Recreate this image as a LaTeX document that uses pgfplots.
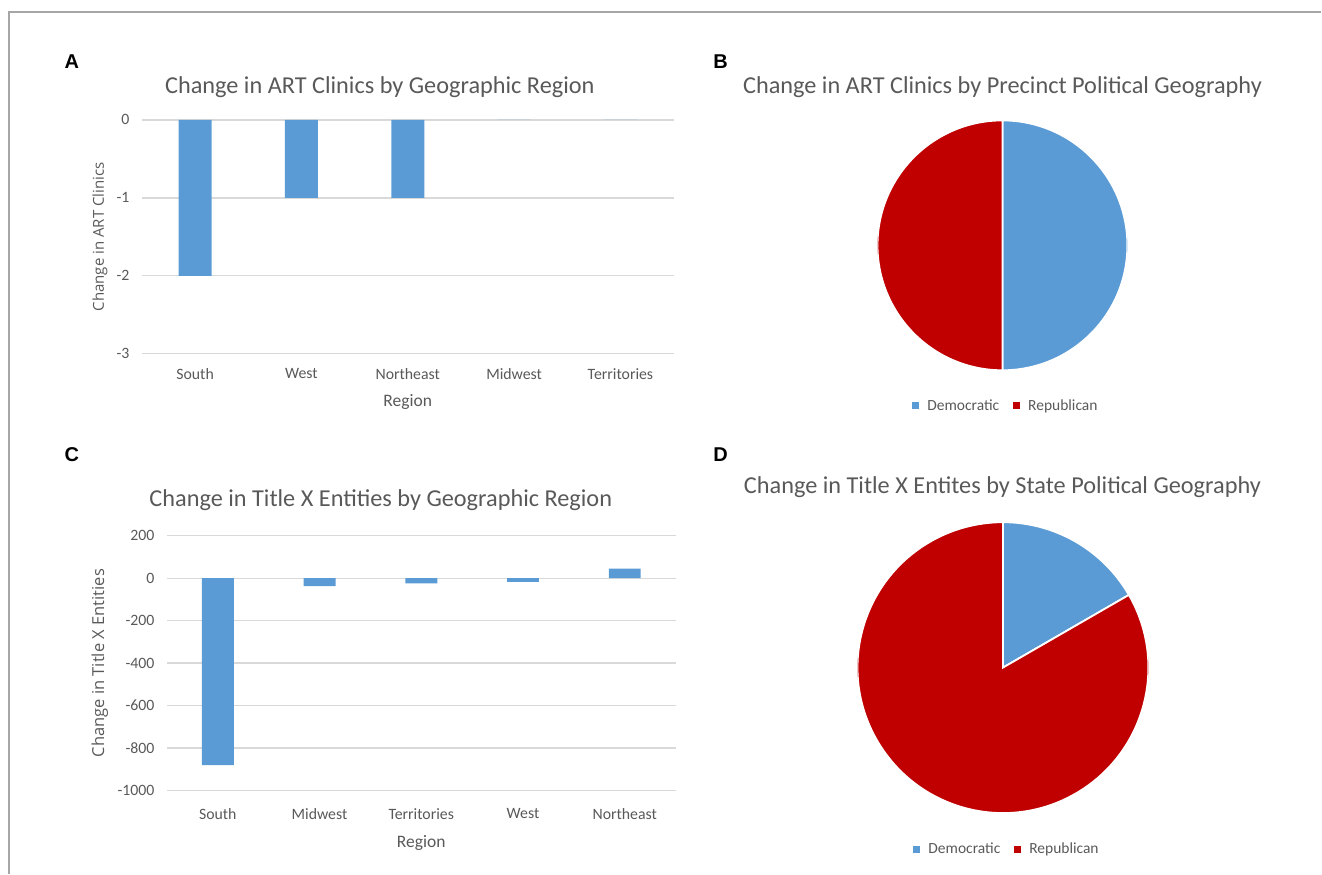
\documentclass[border=0pt]{standalone}
\usepackage{pgfplots}
\pgfplotsset{compat=1.18}
\usepackage{fontspec}
\setmainfont{Carlito}
\newfontfamily\ylabfont{Open Sans}
\newfontfamily\letterfont{Liberation Sans}
\definecolor{barblue}{HTML}{5B9BD5}
\definecolor{demblue}{HTML}{5B9BD5}
\definecolor{repred}{HTML}{C00000}
\definecolor{txtgray}{HTML}{595959}
\definecolor{gridgray}{HTML}{D9D9D9}
\definecolor{framegray}{HTML}{A6A6A6}
\pgfplotsset{
  barax/.style={
    scale only axis, ybar,
    axis line style={draw=none}, major tick length=0,
    ymajorgrids, grid style={draw=gridgray, line width=1.3bp},
    xtick={0,...,4}, xmin=-0.5, xmax=4.5,
    /pgf/number format/assume math mode=true,
    /pgf/number format/set thousands separator={},
    tick label style={font=\fontsize{15.8bp}{18bp}\selectfont, text=txtgray},
    yticklabel style={xshift=-9bp},
    xlabel style={font=\fontsize{17.5bp}{20bp}\selectfont, text=txtgray, anchor=center},
    ylabel style={text=txtgray, anchor=center},
  },
  pieax/.style={
    hide axis, scale only axis, xmin=-1, xmax=1, ymin=-1, ymax=1, anchor=center,
    legend columns=2,
    legend image code/.code={\path[draw=none,fill=none] (0bp,0bp) -- (13bp,0bp);\fill[##1, draw=none] (0bp,-3.5bp) rectangle (7bp,3.5bp);},
    legend style={draw=none, fill=none, anchor=center,
      font=\fontsize{15.5bp}{18bp}\selectfont, text=txtgray,
      /tikz/every even column/.append style={column sep=12bp}},
  },
}
\begin{document}%
\begin{tikzpicture}
% pie data (share of change)
\def\BDem{1}\def\BRep{1}
\def\DDem{1}\def\DRep{5}
\pgfmathsetmacro{\angB}{360*\BDem/(\BDem+\BRep)}
\pgfmathsetmacro{\angD}{360*\DDem/(\DDem+\DRep)}
\path (0,0) rectangle (1322bp,874bp);
\draw[framegray, line width=1.5bp] (9bp,0) -- (9bp,862bp) -- (1322bp,862bp);
% panel letters
\node[font=\letterfont\bfseries\fontsize{20bp}{22bp}\selectfont] at (72bp,812bp) {A};
\node[font=\letterfont\bfseries\fontsize{20bp}{22bp}\selectfont] at (721bp,812bp) {B};
\node[font=\letterfont\bfseries\fontsize{20bp}{22bp}\selectfont] at (72bp,419bp) {C};
\node[font=\letterfont\bfseries\fontsize{20bp}{22bp}\selectfont] at (721bp,419bp) {D};
% titles
\node[font=\fontsize{24.3bp}{28bp}\selectfont, text=txtgray] at (380bp,787bp) {Change in ART Clinics by Geographic Region};
\node[font=\fontsize{24.3bp}{28bp}\selectfont, text=txtgray] at (1003bp,787bp) {Change in ART Clinics by Precinct Political Geography};
\node[font=\fontsize{24.3bp}{28bp}\selectfont, text=txtgray] at (381bp,374bp) {Change in Title X Entities by Geographic Region};
\node[font=\fontsize{24.3bp}{28bp}\selectfont, text=txtgray] at (1003bp,387bp) {Change in Title X Entites by State Political Geography};

% Panel A
\begin{axis}[barax, at={(142bp,520bp)}, anchor=south west,
  width=532bp, height=234bp, bar width=33bp,
  ymin=-3, ymax=0, ytick={-3,-2,-1,0},
  xticklabels={South,West,Northeast,Midwest,Territories},
  xticklabel style={yshift=-11bp},
  xlabel={Region}, xlabel style={at={(axis description cs:0.5,-0.205)}},
  ylabel={Change in ART Clinics},
  ylabel style={font=\ylabfont\fontsize{15bp}{18bp}\selectfont, at={(axis description cs:-0.079,0.5)}},
]
\addplot[fill=barblue, draw=none] coordinates {(0,-2) (1,-1) (2,-1) (3,0) (4,0)};
\end{axis}

% Panel C
\begin{axis}[barax, at={(167bp,83bp)}, anchor=south west,
  width=509bp, height=255bp, bar width=32bp,
  ymin=-1000, ymax=200, ytick={-1000,-800,...,200},
  xticklabels={South,Midwest,Territories,West,Northeast},
  xticklabel style={yshift=-14.5bp},
  xlabel={Region}, xlabel style={at={(axis description cs:0.5,-0.205)}},
  ylabel={Change in Title X Entities},
  ylabel style={font=\ylabfont\fontsize{16.5bp}{19bp}\selectfont, at={(axis description cs:-0.1316,0.5)}},
]
\addplot[fill=barblue, draw=none] coordinates {(0,-880) (1,-38) (2,-24) (3,-17) (4,45)};
\end{axis}

% Panel B
\begin{axis}[pieax, at={(1003bp,628.5bp)}, width=250bp, height=250bp,
  legend style={at={(0.514,-0.142)}}]
\addlegendimage{fill=demblue}
\addlegendentry{Democratic}
\addlegendimage{fill=repred}
\addlegendentry{Republican}
\filldraw[fill=demblue, draw=white, line width=1.8bp] (axis cs:0,0) -- ++(90:125bp) arc[start angle=90, delta angle=-\angB, radius=125bp] -- cycle;
\filldraw[fill=repred, draw=white, line width=1.8bp] (axis cs:0,0) -- ++({90-\angB}:125bp) arc[start angle={90-\angB}, end angle=-270, radius=125bp] -- cycle;
\end{axis}

% Panel D
\begin{axis}[pieax, at={(1003.5bp,206bp)}, width=291bp, height=291bp,
  legend style={at={(0.514,-0.124)}}]
\addlegendimage{fill=demblue}
\addlegendentry{Democratic}
\addlegendimage{fill=repred}
\addlegendentry{Republican}
\filldraw[fill=demblue, draw=white, line width=1.8bp] (axis cs:0,0) -- ++(90:145.5bp) arc[start angle=90, delta angle=-\angD, radius=145.5bp] -- cycle;
\filldraw[fill=repred, draw=white, line width=1.8bp] (axis cs:0,0) -- ++({90-\angD}:145.5bp) arc[start angle={90-\angD}, end angle=-270, radius=145.5bp] -- cycle;
\end{axis}
\end{tikzpicture}%
\end{document}
